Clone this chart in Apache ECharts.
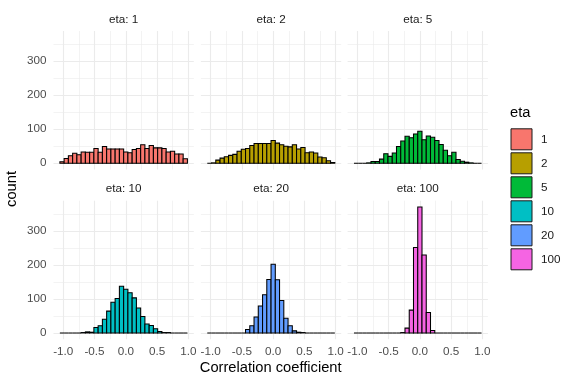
<!DOCTYPE html>
<html><head><meta charset="utf-8">
<script src="https://cdn.jsdelivr.net/npm/echarts@6/dist/echarts.min.js"></script>
<style>html,body{margin:0;padding:0;background:#fff}#c{width:576px;height:384px}</style>
</head><body><div id="c"></div>
<script>
// ---- data ----
const etaLevels = ['1', '2', '5', '10', '20', '100'];
const binWidth = 0.068;
const binCenters = [-1.02, -0.952, -0.884, -0.816, -0.748, -0.68, -0.612, -0.544, -0.476, -0.408,
  -0.34, -0.272, -0.204, -0.136, -0.068, 0, 0.068, 0.136, 0.204, 0.272,
  0.34, 0.408, 0.476, 0.544, 0.612, 0.68, 0.748, 0.816, 0.884, 0.952];
const countsEta1 = [4, 14, 22, 29, 25, 33, 32, 32, 43, 32, 49, 42, 42, 42, 42, 33, 31, 40, 43, 54, 43, 52, 45, 45, 43, 33, 35, 27, 27, 13];
const countsEta2 = [0, 1, 9, 15, 19, 23, 26, 35, 41, 43, 52, 58, 58, 58, 58, 67, 59, 54, 50, 48, 54, 42, 46, 31, 33, 30, 18, 16, 7, 2];
const countsEta5 = [0, 0, 0, 1, 5, 5, 12, 28, 20, 30, 49, 65, 79, 75, 86, 94, 69, 80, 76, 67, 55, 38, 22, 32, 11, 6, 3, 1, 0, 0];
const countsEta10 = [0, 0, 0, 0, 0, 1, 3, 2, 16, 21, 40, 64, 90, 101, 137, 128, 118, 103, 73, 48, 26, 22, 12, 4, 1, 1, 0, 0, 0, 0];
const countsEta20 = [0, 0, 0, 0, 0, 0, 0, 0, 0, 10, 21, 47, 79, 112, 157, 202, 156, 95, 43, 21, 6, 2, 1, 0, 0, 0, 0, 0, 0, 0];
const countsEta100 = [0, 0, 0, 0, 0, 0, 0, 0, 0, 0, 0, 1, 14, 67, 251, 370, 229, 60, 7, 0, 0, 0, 0, 0, 0, 0, 0, 0, 0, 0];
const xMajorTicks = [-1, -0.5, 0, 0.5, 1];
const xMinorTicks = [-0.75, -0.25, 0.25, 0.75];
const yMajorTicks = [0, 100, 200, 300];
const yMinorTicks = [50, 150, 250, 350];
const allCounts = [countsEta1, countsEta2, countsEta5, countsEta10, countsEta20, countsEta100];
const colors = ['#F8766D', '#B79F00', '#00BA38', '#00BFC4', '#619CFF', '#F564E3'];

// ---- layout ----
const FONT = '"Liberation Sans", Arial, sans-serif';
const panelLeft = [53.5, 200.9, 347.6];
const panelW = 140.3;
const panelTop = [31, 200.7];
const panelH = 138.5;
const xMin = -1.156, xMax = 1.088;
const yMin = -18.5, yMax = 388.5;

const grids = [], xAxes = [], yAxes = [], series = [], graphics = [];
for (let i = 0; i < 6; i++) {
  const col = i % 3, row = Math.floor(i / 3);
  grids.push({left: panelLeft[col], top: panelTop[row], width: panelW, height: panelH, containLabel: false});
  const showX = row === 1, showY = col === 0;
  xAxes.push({
    type: 'value', gridIndex: i, min: xMin, max: xMax, position: 'bottom',
    axisLine: {show: false},
    axisTick: {show: false, customValues: xMajorTicks},
    axisLabel: {show: showX, customValues: xMajorTicks, formatter: v => v.toFixed(1), color: '#4D4D4D',
      fontSize: 11.7, fontFamily: FONT, margin: 6.5, showMinLabel: true, showMaxLabel: true},
    splitLine: {show: true, lineStyle: {color: '#EBEBEB', width: 1.1}}
  });
  xAxes.push({
    type: 'value', gridIndex: i, min: xMin, max: xMax, position: 'top',
    axisLine: {show: false},
    axisTick: {show: false, customValues: xMinorTicks},
    axisLabel: {show: false},
    splitLine: {show: true, lineStyle: {color: '#EBEBEB', width: 0.6}}
  });
  yAxes.push({
    type: 'value', gridIndex: i, min: yMin, max: yMax, position: 'left',
    axisLine: {show: false},
    axisTick: {show: false, customValues: yMajorTicks},
    axisLabel: {show: showY, customValues: yMajorTicks, color: '#4D4D4D', fontSize: 11.7, fontFamily: FONT, margin: 7},
    splitLine: {show: true, lineStyle: {color: '#EBEBEB', width: 1.1}}
  });
  yAxes.push({
    type: 'value', gridIndex: i, min: yMin, max: yMax, position: 'right',
    axisLine: {show: false},
    axisTick: {show: false, customValues: yMinorTicks},
    axisLabel: {show: false},
    splitLine: {show: true, lineStyle: {color: '#EBEBEB', width: 0.6}}
  });
  series.push({
    type: 'custom', name: etaLevels[i], xAxisIndex: 2 * i, yAxisIndex: 2 * i,
    itemStyle: {color: colors[i], borderColor: '#000', borderWidth: 1},
    data: binCenters.map((c, j) => [c, allCounts[i][j]]),
    renderItem: function (params, api) {
      const x = api.value(0), y = api.value(1);
      const p0 = api.coord([x - binWidth / 2, y]);
      const p1 = api.coord([x + binWidth / 2, 0]);
      return {type: 'rect', shape: {x: p0[0], y: p0[1], width: p1[0] - p0[0], height: p1[1] - p0[1]},
        style: {fill: colors[i], stroke: '#000', lineWidth: 1.05}};
    },
    animation: false, silent: true
  });
  graphics.push({type: 'text', x: panelLeft[col] + panelW / 2, y: panelTop[row] - 11.5,
    style: {text: 'eta: ' + etaLevels[i], fill: '#1A1A1A', font: '11.7px ' + FONT, align: 'center', verticalAlign: 'middle',
      textAlign: 'center', textVerticalAlign: 'middle'}});
}
graphics.push({type: 'text', x: 12, y: 189, rotation: Math.PI / 2,
  style: {text: 'count', fill: '#000', font: '14.7px ' + FONT, align: 'center', verticalAlign: 'middle', textAlign: 'center', textVerticalAlign: 'middle'}});
graphics.push({type: 'text', x: 270.7, y: 368,
  style: {text: 'Correlation coefficient', fill: '#000', font: '14.7px ' + FONT, align: 'center', verticalAlign: 'middle', textAlign: 'center', textVerticalAlign: 'middle'}});
graphics.push({type: 'text', x: 510, y: 113,
  style: {text: 'eta', fill: '#000', font: '14.7px ' + FONT, align: 'left', verticalAlign: 'middle', textAlign: 'left', textVerticalAlign: 'middle'}});

const chart = echarts.init(document.getElementById('c'), null, {renderer: 'canvas'});
chart.setOption({
  animation: false,
  backgroundColor: '#fff',
  grid: grids, xAxis: xAxes, yAxis: yAxes, series: series,
  legend: {
    data: etaLevels, orient: 'vertical', left: 510.5, top: 128.3, padding: 0,
    itemWidth: 21, itemHeight: 21, itemGap: 2, icon: 'rect',
    itemStyle: {borderColor: '#1a1a1a', borderWidth: 1},
    textStyle: {fontSize: 11.7, fontFamily: FONT, color: '#1A1A1A', padding: [0, 0, 0, 4]},
    selectedMode: false
  },
  graphic: graphics
});
</script>
</body></html>
